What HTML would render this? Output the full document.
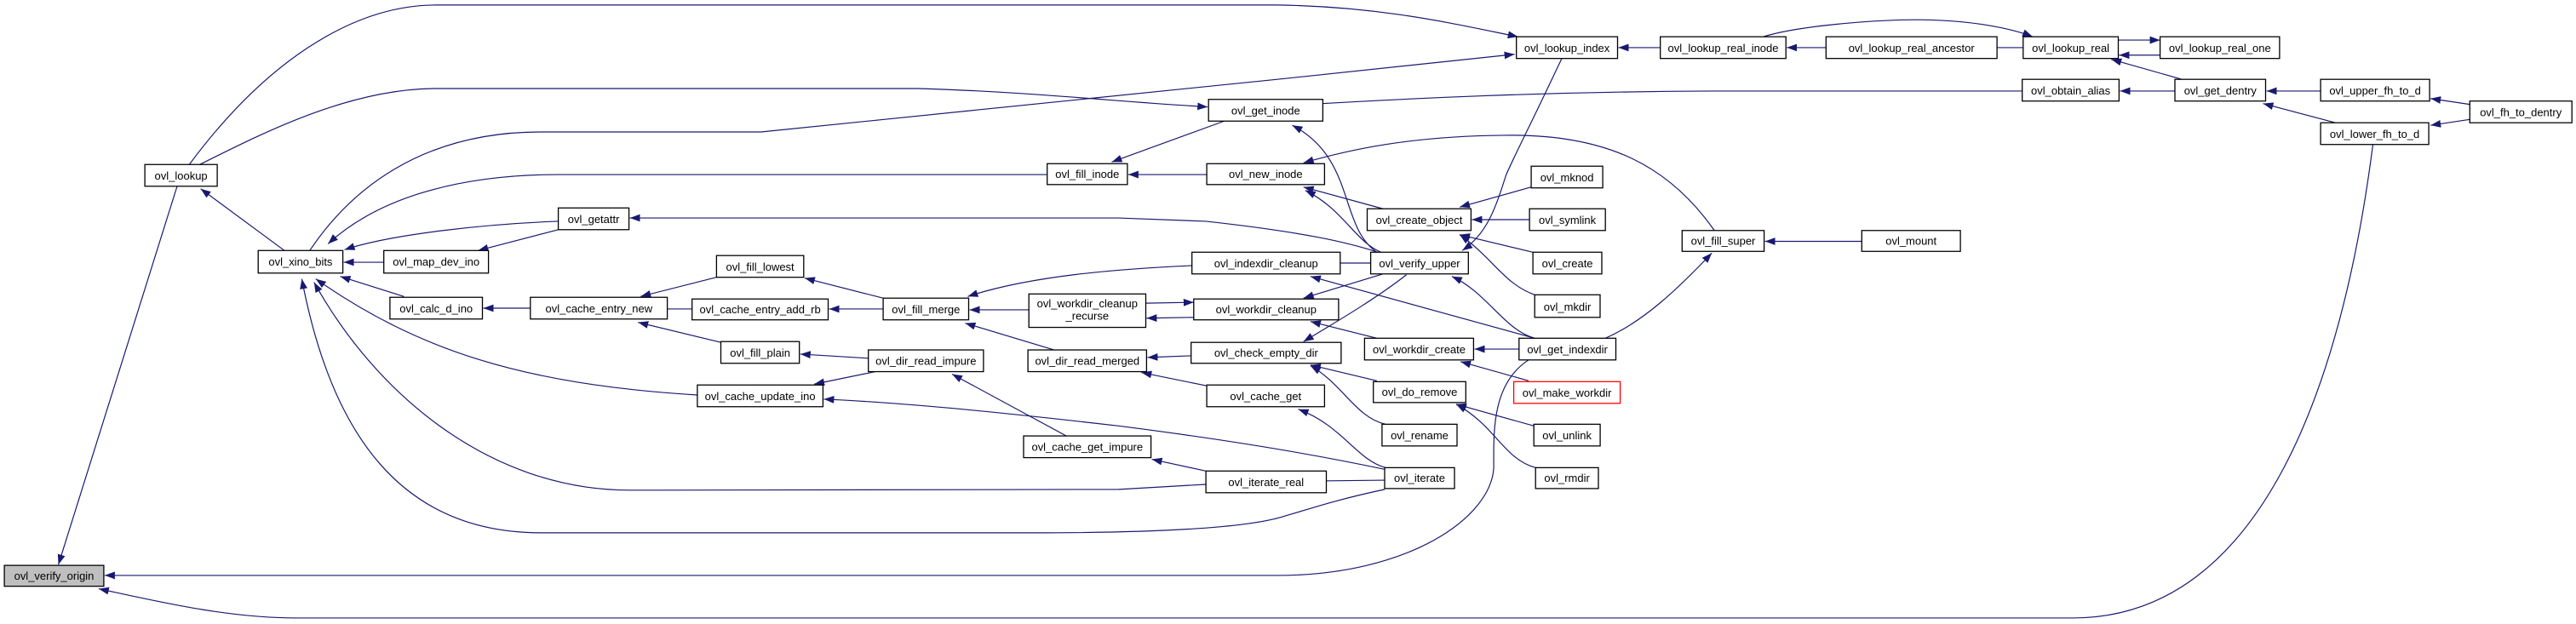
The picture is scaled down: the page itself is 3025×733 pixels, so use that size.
<!DOCTYPE html>
<html><head><meta charset="utf-8"><style>
html,body{margin:0;padding:0;background:#fff;width:3025px;height:733px;overflow:hidden}
svg{display:block}
text{font-family:"Liberation Sans",Arial,sans-serif;font-size:13px;fill:#000}
</style></head><body>
<svg id="g" width="3025" height="733" viewBox="0 0 3025 733" xmlns="http://www.w3.org/2000/svg">
<defs>
<marker id="a" markerUnits="userSpaceOnUse" markerWidth="13" markerHeight="10" refX="12" refY="4.5" orient="auto">
<path d="M0,0 L12,4.5 L0,9 z" fill="#191970"/>
</marker>
</defs>
<g transform="scale(1,0.981)">
<g class="e" fill="none" stroke="#191970" stroke-width="1.2" marker-end="url(#a)">
<path d="M217,197 C300,80 400,6 500,6 L1500,6 C1620,8 1700,28 1776,44"/>
<path d="M229,197 C300,160 400,106 500,106 L1070,106 C1200,110 1300,122 1402,128"/>
<path d="M355,300 C400,230 480,158 620,158 L890,158 L1500,95 L1772,65"/>
<path d="M1218,209 L640,209 C520,209 430,240 376,292"/>
<path d="M640,265 C560,268 450,280 395,299"/>
<path d="M440,314 L394,314"/>
<path d="M640,275 L548,300"/>
<path d="M1615,302 C1580,290 1530,278 1400,265 L1300,261 L722,261"/>
<path d="M463,355 L390,331"/>
<path d="M608,369 L554,369"/>
<path d="M839,332 L752,355"/>
<path d="M811,370 L766,370"/>
<path d="M844,410 L749,386"/>
<path d="M817,473 C600,460 480,420 362,334"/>
<path d="M1400,580 L1300,586 L740,587 C560,587 430,470 360,338"/>
<path d="M1623,586 C1560,600 1530,612 1490,618 C1440,635 1300,638 1200,638 L620,638 C460,638 380,520 346,334"/>
<path d="M1623,562 C1560,548 1450,530 1300,510 C1150,492 1050,482 962,478"/>
<path d="M1623,575 L1539,576"/>
<path d="M1400,564 L1338,550"/>
<path d="M1240,522 L1109,448"/>
<path d="M1013,429 L935,424"/>
<path d="M1021,445 L951,460"/>
<path d="M1030,357 L940,333"/>
<path d="M1030,370 L968,370"/>
<path d="M1384,318 C1300,322 1200,330 1127,355"/>
<path d="M1197,371 L1129,371"/>
<path d="M1226,419 L1124,387"/>
<path d="M1331,363 L1386,362"/>
<path d="M1386,380 L1332,381"/>
<path d="M1383,426 L1333,428"/>
<path d="M1401,462 L1326,446"/>
<path d="M1421,145 L1292,194"/>
<path d="M1401,209 L1311,209"/>
<path d="M1614,302 C1570,270 1590,190 1517,150"/>
<path d="M2372,109 L2000,109 C1800,110 1650,118 1535,125"/>
<path d="M2001,276 C1950,200 1880,160 1760,162 C1650,163 1580,180 1530,195"/>
<path d="M1621,250 L1530,224"/>
<path d="M1619,302 C1590,290 1575,250 1532,228"/>
<path d="M1826,70 C1790,150 1770,190 1762,210 C1750,250 1740,280 1712,300"/>
<path d="M1791,224 L1709,248"/>
<path d="M1789,263 L1723,263"/>
<path d="M1793,302 L1709,281"/>
<path d="M1795,353 C1760,340 1748,310 1709,281"/>
<path d="M1607,315 L1555,315"/>
<path d="M1795,405 L1538,331"/>
<path d="M1795,405 C1760,395 1740,350 1700,331"/>
<path d="M1621,328 L1530,357"/>
<path d="M1614,405 L1538,385"/>
<path d="M1648,329 C1610,360 1560,390 1530,409"/>
<path d="M1777,418 L1726,418"/>
<path d="M1788,456 L1710,433"/>
<path d="M1614,456 L1538,437"/>
<path d="M1624,508 C1590,500 1575,460 1538,438"/>
<path d="M1624,560 C1590,550 1575,510 1524,490"/>
<path d="M1794,510 L1705,484"/>
<path d="M1796,560 C1760,550 1750,510 1705,484"/>
<path d="M1876,405 C1920,385 1960,345 1998,303"/>
<path d="M2170,289 L2059,289"/>
<path d="M1939,57 L1891,57"/>
<path d="M2129,57 L2084,57"/>
<path d="M2373,57 L2326,57"/>
<path d="M2057,44 C2100,30 2200,22 2270,24 C2320,26 2360,34 2384,44"/>
<path d="M2482,48 L2530,48"/>
<path d="M2530,66 L2483,66"/>
<path d="M2555,95 L2474,71"/>
<path d="M2547,109 L2484,109"/>
<path d="M2714,109 L2652,109"/>
<path d="M2731,147 L2648,124"/>
<path d="M2885,125 L2840,118"/>
<path d="M2885,143 L2840,150"/>
<path d="M2774,173 C2740,450 2650,740 2430,740 L340,740 C260,740 180,720 113,705"/>
<path d="M1788,431 C1745,460 1748,520 1748,560 C1745,620 1650,689 1500,689 L120,689"/>
<path d="M203,223 L67,676"/>
<path d="M326,300 L230,226"/>
</g>
<g class="n" stroke="#000" stroke-width="1.3" fill="#fff">
<rect x="5" y="677" width="114" height="25" fill="#bfbfbf"/>
<rect x="166" y="197" width="83" height="26"/>
<rect x="296" y="300" width="97" height="27"/>
<rect x="440" y="300" width="120" height="27"/>
<rect x="640" y="249" width="81" height="26"/>
<rect x="447" y="356" width="106" height="26"/>
<rect x="608" y="356" width="157" height="26"/>
<rect x="839" y="306" width="100" height="26"/>
<rect x="811" y="358" width="156" height="25"/>
<rect x="844" y="409" width="90" height="26"/>
<rect x="817" y="461" width="144" height="26"/>
<rect x="1030" y="357" width="98" height="26"/>
<rect x="1013" y="419" width="132" height="26"/>
<rect x="1191" y="522" width="146" height="26"/>
<rect x="1197" y="352" width="134" height="40"/>
<rect x="1196" y="419" width="136" height="26"/>
<rect x="1218" y="196" width="92" height="25"/>
<rect x="1403" y="119" width="131" height="26"/>
<rect x="1401" y="196" width="135" height="25"/>
<rect x="1384" y="302" width="170" height="26"/>
<rect x="1386" y="358" width="166" height="25"/>
<rect x="1383" y="410" width="172" height="25"/>
<rect x="1401" y="461" width="135" height="26"/>
<rect x="1400" y="564" width="138" height="26"/>
<rect x="1774" y="44" width="116" height="26"/>
<rect x="1939" y="44" width="144" height="26"/>
<rect x="2129" y="44" width="196" height="26"/>
<rect x="1603" y="250" width="119" height="26"/>
<rect x="1607" y="302" width="112" height="26"/>
<rect x="1791" y="199" width="82" height="26"/>
<rect x="1789" y="250" width="87" height="26"/>
<rect x="1793" y="302" width="79" height="26"/>
<rect x="1795" y="353" width="75" height="27"/>
<rect x="1600" y="405" width="125" height="26"/>
<rect x="1777" y="405" width="111" height="26"/>
<rect x="1771" y="457" width="122" height="26" stroke="#ff0000"/>
<rect x="1610" y="457" width="106" height="25"/>
<rect x="1620" y="508" width="86" height="26"/>
<rect x="1794" y="508" width="76" height="26"/>
<rect x="1796" y="560" width="72" height="25"/>
<rect x="1623" y="560" width="80" height="25"/>
<rect x="1964" y="276" width="94" height="25"/>
<rect x="2170" y="276" width="113" height="25"/>
<rect x="2373" y="44" width="109" height="26"/>
<rect x="2530" y="44" width="137" height="26"/>
<rect x="2372" y="95" width="111" height="26"/>
<rect x="2547" y="95" width="104" height="26"/>
<rect x="2714" y="95" width="125" height="26"/>
<rect x="2714" y="147" width="124" height="26"/>
<rect x="2885" y="121" width="117" height="26"/>
</g>
<g class="t" text-anchor="middle">
<text x="62" y="694">ovl_verify_origin</text>
<text x="207.5" y="215">ovl_lookup</text>
<text x="344.5" y="318">ovl_xino_bits</text>
<text x="500" y="318">ovl_map_dev_ino</text>
<text x="680.5" y="267">ovl_getattr</text>
<text x="500" y="374">ovl_calc_d_ino</text>
<text x="686.5" y="374">ovl_cache_entry_new</text>
<text x="889" y="324">ovl_fill_lowest</text>
<text x="889" y="375">ovl_cache_entry_add_rb</text>
<text x="889" y="427">ovl_fill_plain</text>
<text x="889" y="479">ovl_cache_update_ino</text>
<text x="1079" y="375">ovl_fill_merge</text>
<text x="1079" y="437">ovl_dir_read_impure</text>
<text x="1264" y="540">ovl_cache_get_impure</text>
<text x="1264" y="368">ovl_workdir_cleanup</text>
<text x="1264" y="383">_recurse</text>
<text x="1264" y="437">ovl_dir_read_merged</text>
<text x="1264" y="213">ovl_fill_inode</text>
<text x="1468.5" y="137">ovl_get_inode</text>
<text x="1468.5" y="213">ovl_new_inode</text>
<text x="1469" y="320">ovl_indexdir_cleanup</text>
<text x="1469" y="375">ovl_workdir_cleanup</text>
<text x="1469" y="427">ovl_check_empty_dir</text>
<text x="1468.5" y="479">ovl_cache_get</text>
<text x="1469" y="582">ovl_iterate_real</text>
<text x="1832" y="62">ovl_lookup_index</text>
<text x="2011" y="62">ovl_lookup_real_inode</text>
<text x="2227" y="62">ovl_lookup_real_ancestor</text>
<text x="1662.5" y="268">ovl_create_object</text>
<text x="1663" y="320">ovl_verify_upper</text>
<text x="1832" y="217">ovl_mknod</text>
<text x="1832.5" y="268">ovl_symlink</text>
<text x="1832.5" y="320">ovl_create</text>
<text x="1832.5" y="372">ovl_mkdir</text>
<text x="1662.5" y="423">ovl_workdir_create</text>
<text x="1832.5" y="423">ovl_get_indexdir</text>
<text x="1832" y="475">ovl_make_workdir</text>
<text x="1663" y="474">ovl_do_remove</text>
<text x="1663" y="526">ovl_rename</text>
<text x="1832" y="526">ovl_unlink</text>
<text x="1832" y="577">ovl_rmdir</text>
<text x="1663" y="577">ovl_iterate</text>
<text x="2011" y="293">ovl_fill_super</text>
<text x="2226.5" y="293">ovl_mount</text>
<text x="2427.5" y="62">ovl_lookup_real</text>
<text x="2598.5" y="62">ovl_lookup_real_one</text>
<text x="2427.5" y="113">ovl_obtain_alias</text>
<text x="2599" y="113">ovl_get_dentry</text>
<text x="2776.5" y="113">ovl_upper_fh_to_d</text>
<text x="2776" y="165">ovl_lower_fh_to_d</text>
<text x="2943.5" y="139">ovl_fh_to_dentry</text>
</g>
</g>
</svg>
<script>
(function(){
function f(x){var o=[2260,1500,740,0];for(var i=0;i<o.length;i++){if(x>=o[i])return o[i]+(x-o[i])*1.0244;}return x;}
var ps=document.querySelectorAll('.e path');
for(var i=0;i<ps.length;i++){var d=ps[i].getAttribute('d');
d=d.replace(/(-?\d+\.?\d*),(-?\d+\.?\d*)/g,function(m,a,b){return f(parseFloat(a)).toFixed(1)+','+b;});
ps[i].setAttribute('d',d);}
var rs=document.querySelectorAll('.n rect');
for(var i=0;i<rs.length;i++){var x=parseFloat(rs[i].getAttribute('x')),w=parseFloat(rs[i].getAttribute('width'));
var x1=f(x),x2=f(x+w);if(x2<x1+w)x2=x1+w*1.0244;rs[i].setAttribute('x',x1.toFixed(1));rs[i].setAttribute('width',(x2-x1).toFixed(1));}
var ts=document.querySelectorAll('.t text');
for(var i=0;i<ts.length;i++){var x=parseFloat(ts[i].getAttribute('x'));ts[i].setAttribute('x',f(x).toFixed(1));}
})();
</script>
</body></html>
